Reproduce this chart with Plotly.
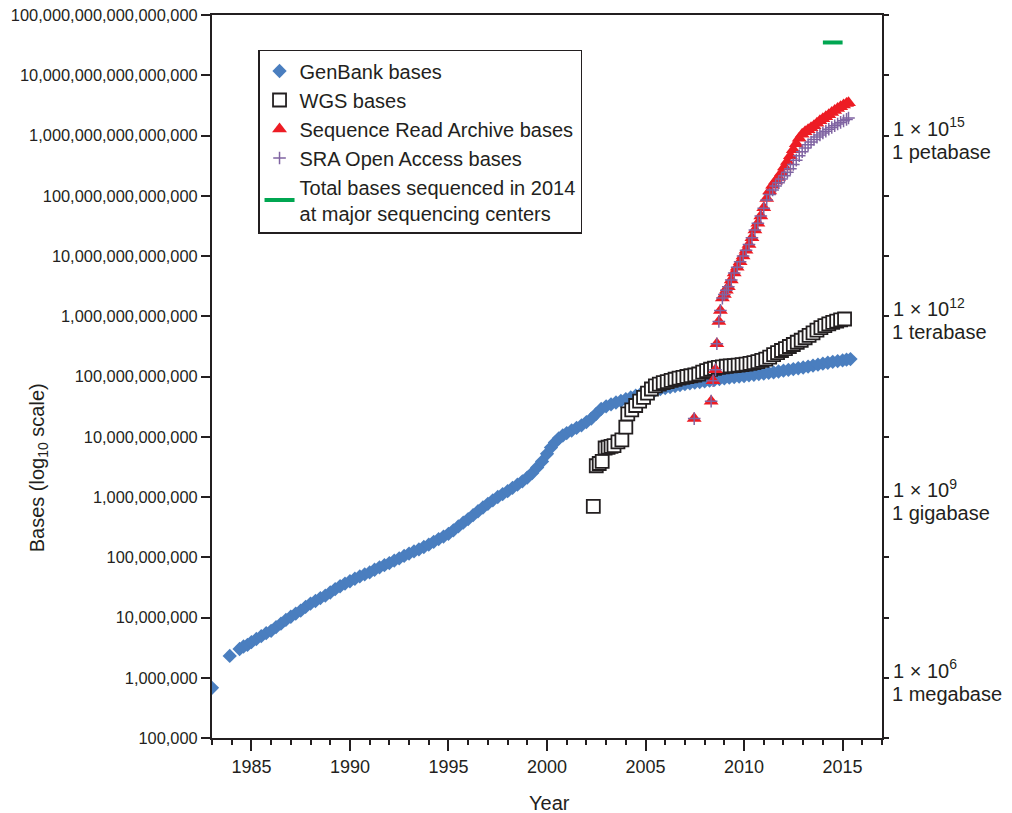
import plotly.graph_objects as go

# ---------------- data ----------------
genbank_years = [
    1983.0, 1983.9, 1984.4, 1984.6, 1984.8, 1985.0, 1985.25, 1985.5, 1985.75,
    1986.0, 1986.25, 1986.5, 1986.75, 1987.0, 1987.25, 1987.5, 1987.75,
    1988.0, 1988.25, 1988.5, 1988.75, 1989.0, 1989.25, 1989.5, 1989.75,
    1990.0, 1990.25, 1990.5, 1990.75, 1991.0, 1991.25, 1991.5, 1991.75,
    1992.0, 1992.25, 1992.5, 1992.75, 1993.0, 1993.25, 1993.5, 1993.75,
    1994.0, 1994.25, 1994.5, 1994.75, 1995.0, 1995.25, 1995.5, 1995.75,
    1996.0, 1996.25, 1996.5, 1996.75, 1997.0, 1997.25, 1997.5, 1997.75,
    1998.0, 1998.25, 1998.5, 1998.75, 1999.0, 1999.25, 1999.5, 1999.75,
    2000.0, 2000.2, 2000.4, 2000.6, 2000.8, 2001.0, 2001.25, 2001.5, 2001.75,
    2002.0, 2002.25, 2002.5, 2002.75, 2003.0, 2003.25, 2003.5, 2003.75,
    2004.0, 2004.25, 2004.5, 2004.75, 2005.0, 2005.25, 2005.5, 2005.75,
    2006.0, 2006.25, 2006.5, 2006.75, 2007.0, 2007.25, 2007.5, 2007.75,
    2008.0, 2008.25, 2008.5, 2008.75, 2009.0, 2009.25, 2009.5, 2009.75,
    2010.0, 2010.25, 2010.5, 2010.75, 2011.0, 2011.25, 2011.5, 2011.75,
    2012.0, 2012.25, 2012.5, 2012.75, 2013.0, 2013.25, 2013.5, 2013.75,
    2014.0, 2014.25, 2014.5, 2014.75, 2015.0, 2015.2, 2015.4,
]
genbank_bases = [
    6.8e5, 2.3e6, 3.0e6, 3.3e6, 3.5e6, 3.9e6, 4.4e6, 4.9e6, 5.5e6,
    6.0e6, 6.9e6, 7.9e6, 9.1e6, 1.03e7, 1.16e7, 1.3e7, 1.5e7,
    1.7e7, 1.88e7, 2.1e7, 2.3e7, 2.6e7, 2.95e7, 3.3e7, 3.65e7,
    4.0e7, 4.4e7, 4.8e7, 5.2e7, 5.6e7, 6.2e7, 6.8e7, 7.4e7,
    8.0e7, 8.8e7, 9.6e7, 1.05e8, 1.15e8, 1.25e8, 1.35e8, 1.48e8,
    1.62e8, 1.8e8, 2.0e8, 2.2e8, 2.45e8, 2.8e8, 3.25e8, 3.75e8,
    4.3e8, 5.0e8, 5.8e8, 6.7e8, 7.7e8, 8.8e8, 1.0e9, 1.12e9,
    1.25e9, 1.42e9, 1.6e9, 1.82e9, 2.1e9, 2.5e9, 3.1e9, 3.9e9,
    5.2e9, 6.6e9, 8.0e9, 9.4e9, 1.05e10, 1.15e10, 1.27e10, 1.4e10, 1.55e10,
    1.75e10, 2.0e10, 2.4e10, 2.9e10, 3.2e10, 3.45e10, 3.7e10, 3.95e10,
    4.2e10, 4.5e10, 4.8e10, 5.1e10, 5.4e10, 5.7e10, 5.95e10, 6.2e10,
    6.45e10, 6.7e10, 6.95e10, 7.2e10, 7.45e10, 7.7e10, 7.9e10, 8.1e10,
    8.3e10, 8.55e10, 8.8e10, 9.05e10, 9.3e10, 9.55e10, 9.8e10, 1.0e11,
    1.02e11, 1.05e11, 1.07e11, 1.1e11, 1.12e11, 1.15e11, 1.17e11, 1.21e11,
    1.25e11, 1.29e11, 1.33e11, 1.37e11, 1.41e11, 1.46e11, 1.52e11, 1.57e11,
    1.63e11, 1.69e11, 1.75e11, 1.8e11, 1.85e11, 1.9e11, 1.95e11,
]

wgs_years = [
    2002.35, 2002.5, 2002.65, 2002.8, 2002.95, 2003.1, 2003.25, 2003.4, 2003.6,
    2003.8, 2004.0, 2004.1, 2004.3, 2004.5, 2004.7, 2004.9, 2005.1, 2005.3,
    2005.5, 2005.7, 2005.9, 2006.1, 2006.3, 2006.5, 2006.7, 2006.9, 2007.1,
    2007.3, 2007.5, 2007.7, 2007.9, 2008.1, 2008.3, 2008.5, 2008.7, 2008.9,
    2009.1, 2009.3, 2009.5, 2009.7, 2009.9, 2010.1, 2010.3, 2010.5, 2010.7,
    2010.9, 2011.1, 2011.3, 2011.5, 2011.7, 2011.9, 2012.1, 2012.3, 2012.5,
    2012.7, 2012.9, 2013.1, 2013.3, 2013.5, 2013.7, 2013.9, 2014.1, 2014.3,
    2014.5, 2014.7, 2014.9, 2015.1,
]
wgs_bases = [
    7.0e8, 3.3e9, 3.6e9, 3.9e9, 6.5e9, 6.7e9, 6.9e9, 7.1e9, 8.2e9,
    8.9e9, 1.45e10, 2.4e10, 2.8e10, 3.3e10, 3.9e10, 4.5e10, 5.3e10, 6.2e10,
    7.0e10, 7.5e10, 7.9e10, 8.2e10, 8.6e10, 9.0e10, 9.4e10, 9.7e10, 1.0e11,
    1.03e11, 1.06e11, 1.1e11, 1.18e11, 1.25e11, 1.32e11, 1.37e11, 1.42e11, 1.45e11,
    1.48e11, 1.5e11, 1.52e11, 1.55e11, 1.57e11, 1.6e11, 1.65e11, 1.7e11, 1.77e11,
    1.85e11, 1.95e11, 2.1e11, 2.3e11, 2.5e11, 2.7e11, 2.9e11, 3.15e11, 3.4e11,
    3.7e11, 4.0e11, 4.4e11, 4.8e11, 5.3e11, 5.9e11, 6.5e11, 7.0e11, 7.5e11,
    7.9e11, 8.3e11, 8.7e11, 9.0e11,
]

sra_years = [
    2007.47, 2008.33, 2008.43, 2008.55, 2008.62, 2008.72, 2008.8, 2008.9,
    2009.0, 2009.1, 2009.2, 2009.35, 2009.5, 2009.65, 2009.8, 2009.95,
    2010.1, 2010.25, 2010.4, 2010.55, 2010.7, 2010.85, 2011.0, 2011.15,
    2011.3, 2011.45, 2011.6, 2011.75, 2011.9, 2012.05, 2012.2, 2012.35,
    2012.5, 2012.65, 2012.8, 2012.95, 2013.1, 2013.25, 2013.4, 2013.55,
    2013.7, 2013.85, 2014.0, 2014.15, 2014.3, 2014.45, 2014.6, 2014.75,
    2014.9, 2015.05, 2015.2, 2015.3,
]
sra_bases = [
    2.0e10, 3.9e10, 8.5e10, 1.3e11, 3.5e11, 8.2e11, 1.25e12, 2.0e12,
    2.3e12, 2.7e12, 3.1e12, 4.0e12, 5.2e12, 6.5e12, 8.0e12, 1.0e13,
    1.25e13, 1.55e13, 2.0e13, 2.7e13, 3.5e13, 4.6e13, 6.3e13, 9.0e13,
    1.2e14, 1.5e14, 1.75e14, 2.0e14, 2.4e14, 3.0e14, 3.7e14, 4.6e14,
    5.8e14, 7.3e14, 9.0e14, 1.05e15, 1.15e15, 1.25e15, 1.35e15, 1.45e15,
    1.6e15, 1.75e15, 1.9e15, 2.05e15, 2.2e15, 2.4e15, 2.6e15, 2.8e15,
    3.0e15, 3.2e15, 3.4e15, 3.5e15,
]
sra_open_bases = [
    2.0e10, 3.9e10, 8.5e10, 1.3e11, 3.5e11, 8.2e11, 1.25e12, 2.0e12,
    2.3e12, 2.7e12, 3.1e12, 4.0e12, 5.2e12, 6.5e12, 8.0e12, 1.0e13,
    1.25e13, 1.55e13, 2.0e13, 2.7e13, 3.5e13, 4.6e13, 6.2e13, 8.5e13,
    1.05e14, 1.25e14, 1.45e14, 1.65e14, 1.9e14, 2.15e14, 2.45e14, 2.8e14,
    3.3e14, 3.9e14, 4.6e14, 5.4e14, 6.2e14, 7.0e14, 7.8e14, 8.6e14,
    9.4e14, 1.02e15, 1.1e15, 1.18e15, 1.27e15, 1.36e15, 1.45e15, 1.55e15,
    1.65e15, 1.75e15, 1.85e15, 1.95e15,
]

total_2014_years = [2014.0, 2015.0]
total_2014_bases = [3.5e16, 3.5e16]

left_tick_vals = [10 ** k for k in range(5, 18)]
left_tick_text = [f"{v:,}" for v in left_tick_vals]
right_power_text = {6: "1 × 10<sup>6</sup>", 9: "1 × 10<sup>9</sup>",
                    12: "1 × 10<sup>12</sup>", 15: "1 × 10<sup>15</sup>"}
right_name_text = {6: "1 megabase", 9: "1 gigabase",
                   12: "1 terabase", 15: "1 petabase"}
right_tick_text1 = [right_power_text.get(k, "") for k in range(5, 18)]
right_tick_text2 = [right_name_text.get(k, "") for k in range(5, 18)]

# ---------------- styling ----------------
FONT = "Liberation Sans, Arial, Helvetica, sans-serif"
INK = "#231f20"
BLUE = "#4a7ebf"
RED = "#ed1c24"
PURPLE = "#8064a2"
GREEN = "#00a651"

fig = go.Figure()

fig.add_trace(go.Scatter(
    x=genbank_years, y=genbank_bases, mode="markers", name="GenBank bases",
    marker=dict(symbol="diamond", size=11, color=BLUE, line=dict(width=0)),
    legendgroup="a",
))
fig.add_trace(go.Scatter(
    x=wgs_years, y=wgs_bases, mode="markers", name="WGS bases",
    marker=dict(symbol="square", size=13, color="white",
                line=dict(width=1.8, color=INK)),
    legendgroup="b",
))
fig.add_trace(go.Scatter(
    x=sra_years, y=sra_bases, mode="markers",
    name="Sequence Read Archive bases",
    marker=dict(symbol="triangle-up", size=13, color=RED, line=dict(width=0)),
    legendgroup="c",
))
fig.add_trace(go.Scatter(
    x=sra_years, y=sra_open_bases, mode="markers",
    name="SRA Open Access bases",
    marker=dict(symbol="cross-thin-open", size=9,
                line=dict(width=1.5, color=PURPLE), color=PURPLE),
    legendgroup="d",
))
fig.add_trace(go.Scatter(
    x=total_2014_years, y=total_2014_bases, mode="lines",
    name="Total bases sequenced in 2014<br>at major sequencing centers",
    line=dict(color=GREEN, width=4),
    legendgroup="e",
))
# invisible traces to carry the right-hand axes
for ax in ("y2", "y3"):
    fig.add_trace(go.Scatter(
        x=[total_2014_years[0]], y=[total_2014_bases[0]], yaxis=ax,
        mode="markers", marker=dict(opacity=0), showlegend=False,
        hoverinfo="skip",
    ))

# the page body has an 8px margin, so the figure is sized/shifted to compensate
fig.update_layout(
    width=1004, height=805,
    margin=dict(l=204, r=130, t=7, b=75, autoexpand=False),
    paper_bgcolor="white", plot_bgcolor="white",
    font=dict(family=FONT, size=17, color=INK),
    showlegend=True,
    legend=dict(
        x=0.0687, y=0.9516, xanchor="left", yanchor="top",
        bordercolor=INK, borderwidth=1.5, bgcolor="white",
        font=dict(size=20, color=INK),
        tracegroupgap=0, traceorder="grouped",
    ),
    xaxis=dict(
        range=[1983, 2017], showgrid=False, zeroline=False, automargin=False,
        showline=True, linecolor=INK, linewidth=2, mirror=True,
        ticks="outside", ticklen=11, tickwidth=1.5, tickcolor=INK,
        tick0=1985, dtick=5,
        minor=dict(dtick=1, ticks="outside", ticklen=5, tickwidth=1.5,
                   tickcolor=INK, showgrid=False),
        tickfont=dict(size=18, color=INK),
    ),
    yaxis=dict(
        type="log", range=[5, 17.0001], showgrid=False, zeroline=False,
        automargin=False, ticklabeloverflow="allow",
        showline=True, linecolor=INK, linewidth=2,
        ticks="outside", ticklen=9, tickwidth=1.5, tickcolor=INK,
        tickvals=left_tick_vals, ticktext=left_tick_text,
        tickfont=dict(size=16.4, color=INK),
    ),
    yaxis2=dict(
        type="log", range=[5, 17.0001], overlaying="y", side="right", anchor="x",
        showgrid=False, zeroline=False, automargin=False,
        showline=True, linecolor=INK, linewidth=2,
        ticks="outside", ticklen=5, tickwidth=1.5, tickcolor=INK,
        tickvals=left_tick_vals, ticktext=right_tick_text1,
        ticklabelshift=-7,
        tickfont=dict(size=20, color=INK),
    ),
    yaxis3=dict(
        type="log", range=[5, 17.0001], overlaying="y", side="right", anchor="x",
        showgrid=False, zeroline=False, automargin=False, showline=False,
        ticks="outside", ticklen=5, tickwidth=0, tickcolor="rgba(0,0,0,0)",
        tickvals=left_tick_vals, ticktext=right_tick_text2,
        ticklabelshift=16,
        tickfont=dict(size=20, color=INK),
    ),
    annotations=[
        dict(text="Bases (log<sub>10</sub> scale)", xref="paper", yref="paper",
             x=-0.2597, y=0.373, xanchor="center", yanchor="middle",
             textangle=-90, showarrow=False, font=dict(size=20, color=INK)),
        dict(text="Year", xref="paper", yref="paper",
             x=0.503, y=-0.0899, xanchor="center", yanchor="middle",
             showarrow=False, font=dict(size=20, color=INK)),
    ],
)

fig.write_html("out.html")
